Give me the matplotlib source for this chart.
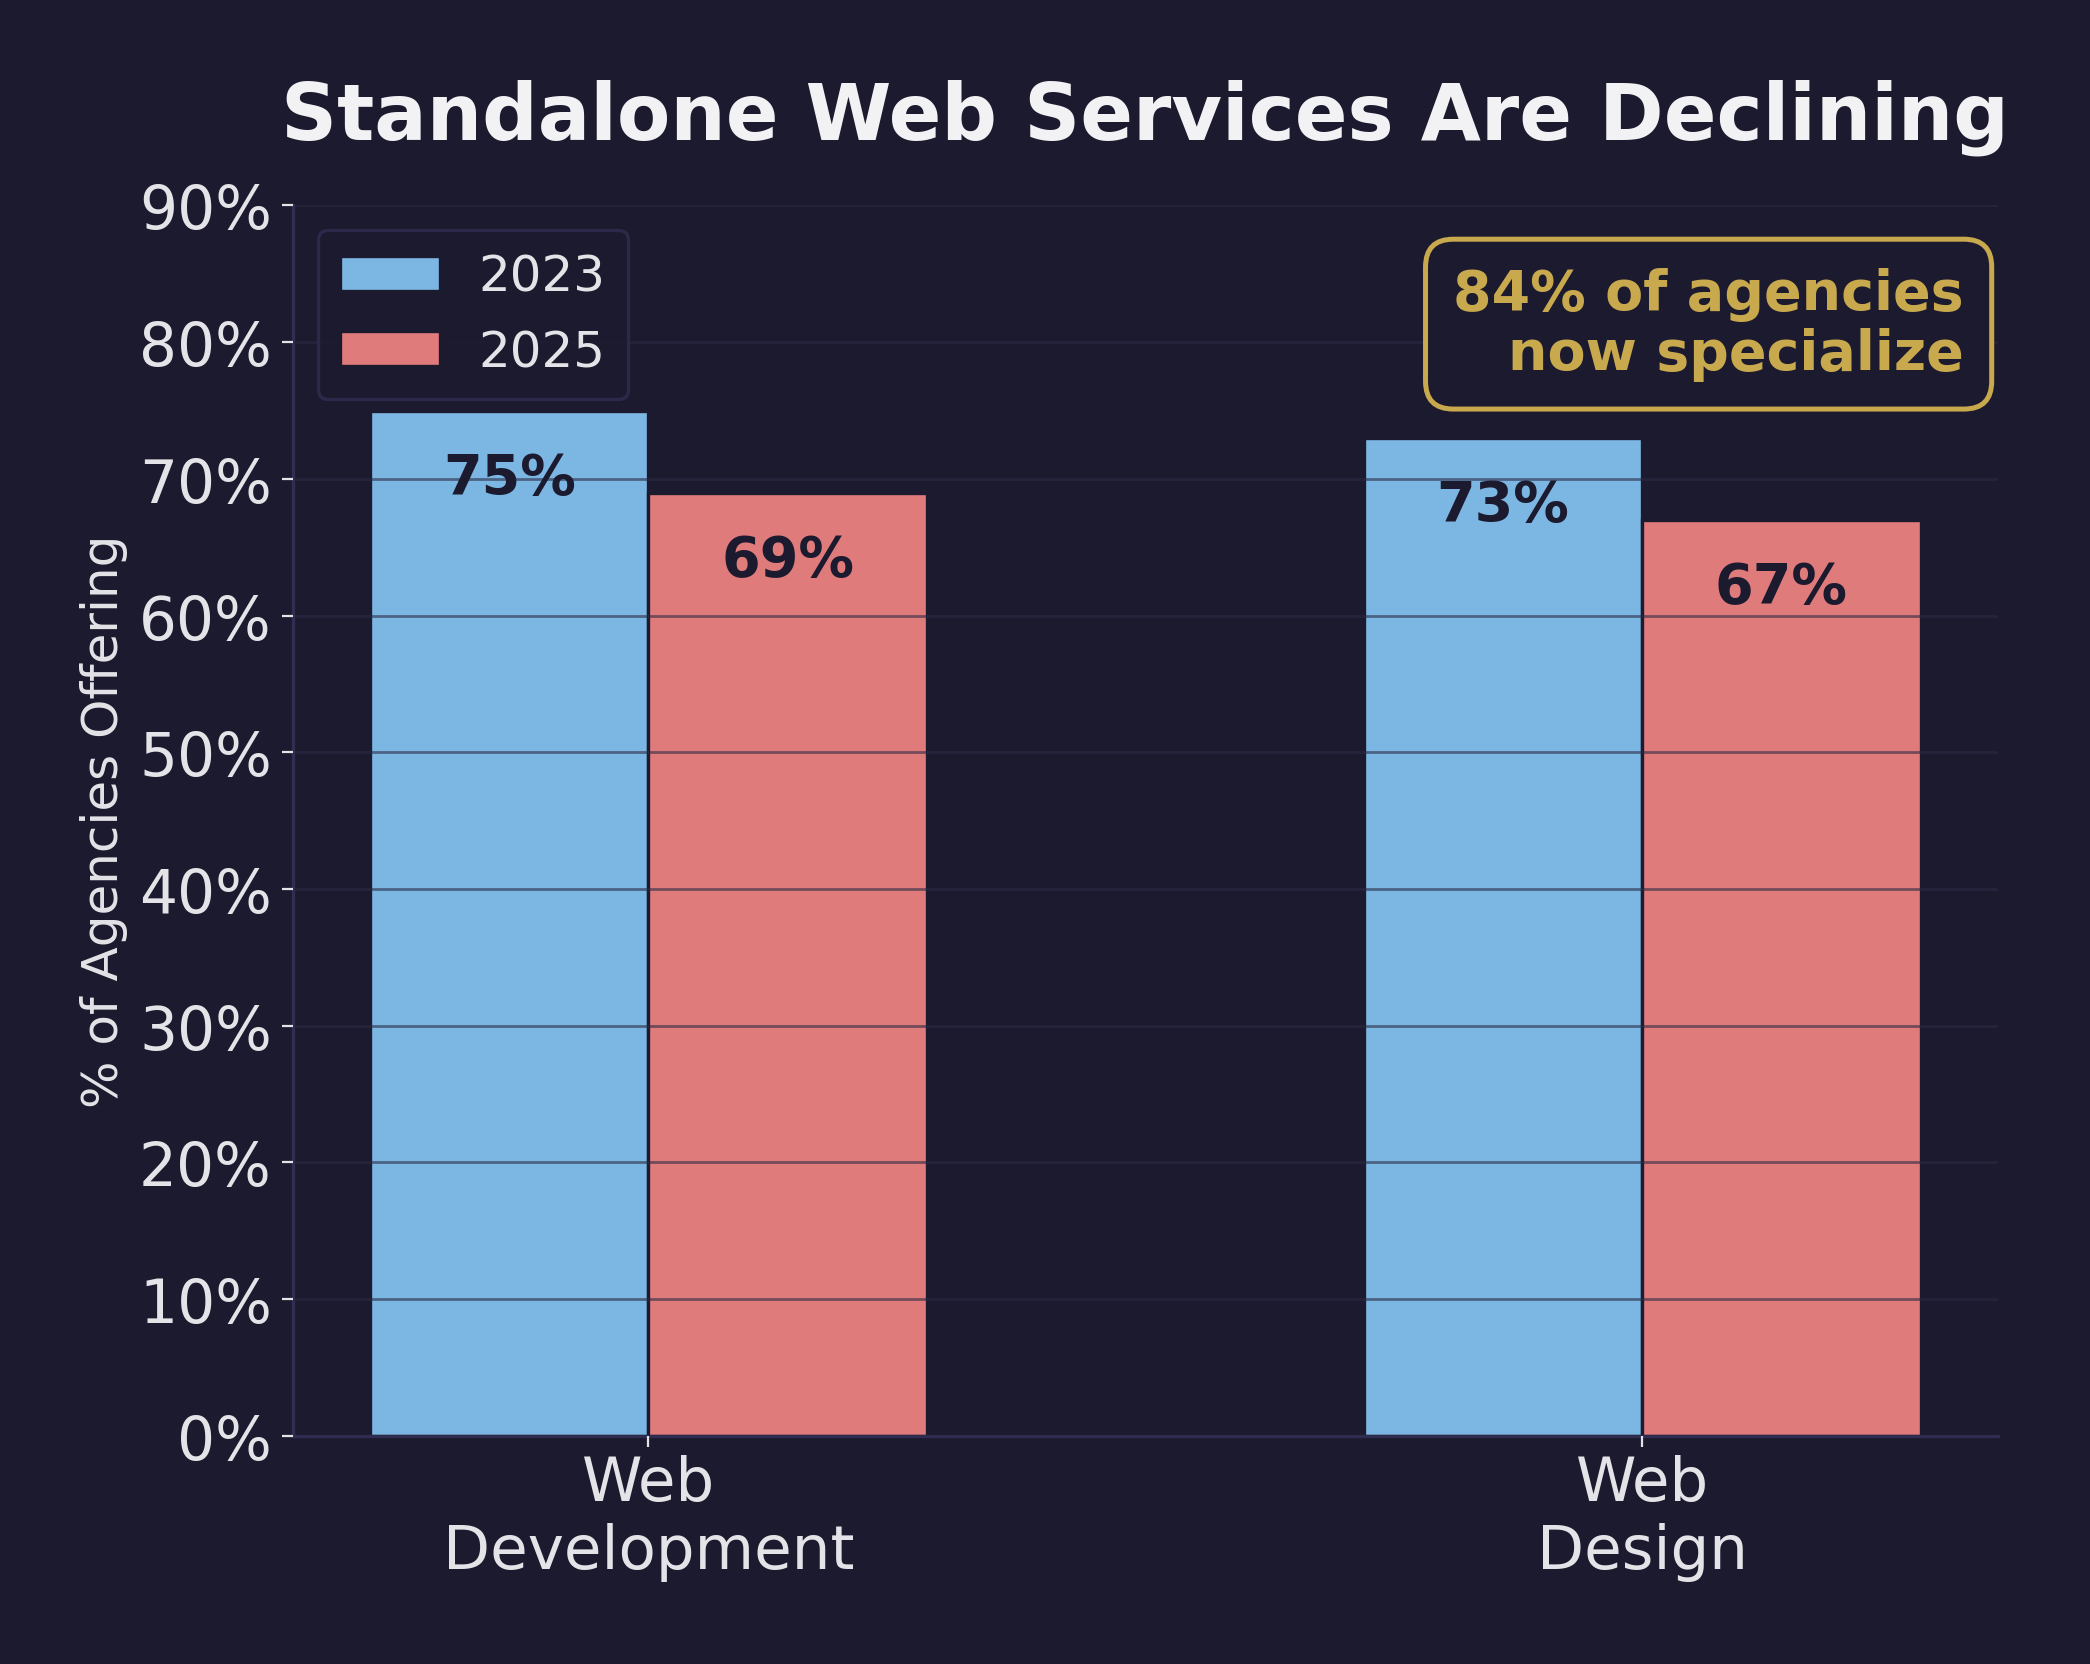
import matplotlib
matplotlib.use('Agg')
import matplotlib.pyplot as plt
import numpy as np
from matplotlib.ticker import FuncFormatter

categories = ['Web\nDevelopment', 'Web\nDesign']
years = ['2023', '2025']
values_2023 = [75, 73]
values_2025 = [69, 67]

bg = '#1c1a2e'
blue = '#7cb7e3'
red = '#e07b7b'
gold = '#c9a94e'
text_col = '#e4e4e8'
spine_col = '#2f2d52'

fig = plt.figure(figsize=(10.45, 8.325), dpi=200, facecolor=bg)
ax = fig.add_axes([0.140, 0.137, 0.816, 0.739], facecolor=bg)

x = np.arange(len(categories))
w = 0.28
b1 = ax.bar(x - w / 2, values_2023, w, color=blue, edgecolor=bg, linewidth=1.2, label=years[0])
b2 = ax.bar(x + w / 2, values_2025, w, color=red, edgecolor=bg, linewidth=1.2, label=years[1])

for bars, vals in [(b1, values_2023), (b2, values_2025)]:
    for bar, v in zip(bars, vals):
        ax.text(bar.get_x() + bar.get_width() / 2, v - 4.9, f'{v}%',
                ha='center', va='center', fontsize=20, fontweight='bold', color=bg)

ax.set_ylim(0, 90)
ax.set_yticks(range(0, 91, 10))
ax.yaxis.set_major_formatter(FuncFormatter(lambda v, p: f'{int(v)}%'))
ax.set_xticks(x)
ax.set_xticklabels(categories)
ax.tick_params(axis='both', colors=text_col)
ax.tick_params(axis='y', length=4, labelsize=21.5)
ax.tick_params(axis='x', length=4, pad=2.6, labelsize=22)

ax.grid(axis='y', color='#2a2a44', alpha=0.6, linewidth=1.0)
ax.set_axisbelow(False)

for s in ['top', 'right']:
    ax.spines[s].set_visible(False)
for s in ['left', 'bottom']:
    ax.spines[s].set_color(spine_col)
    ax.spines[s].set_linewidth(1.2)

ax.set_ylabel('% of Agencies Offering', fontsize=18, color=text_col, labelpad=4)
ax.set_title('Standalone Web Services Are Declining', fontsize=28, fontweight='bold',
             color='#f2f2f4', pad=24)

leg = ax.legend(loc='upper left', fontsize=18, frameon=True, facecolor=bg,
                edgecolor=spine_col, borderpad=0.45, handlelength=2.0, handletextpad=0.77,
                labelspacing=0.55, borderaxespad=0.5, bbox_to_anchor=(0, 1))
for t in leg.get_texts():
    t.set_color(text_col)
leg.get_frame().set_linewidth(1.2)

ax.text(0.980, 0.950, '84% of agencies\nnow specialize', transform=ax.transAxes,
        ha='right', va='top', fontsize=20, fontweight='bold', color=gold,
        linespacing=1.15,
        bbox=dict(boxstyle='round,pad=0.5', facecolor=bg, edgecolor=gold, linewidth=1.8))

fig.savefig('out.png', dpi=200, facecolor=bg)
